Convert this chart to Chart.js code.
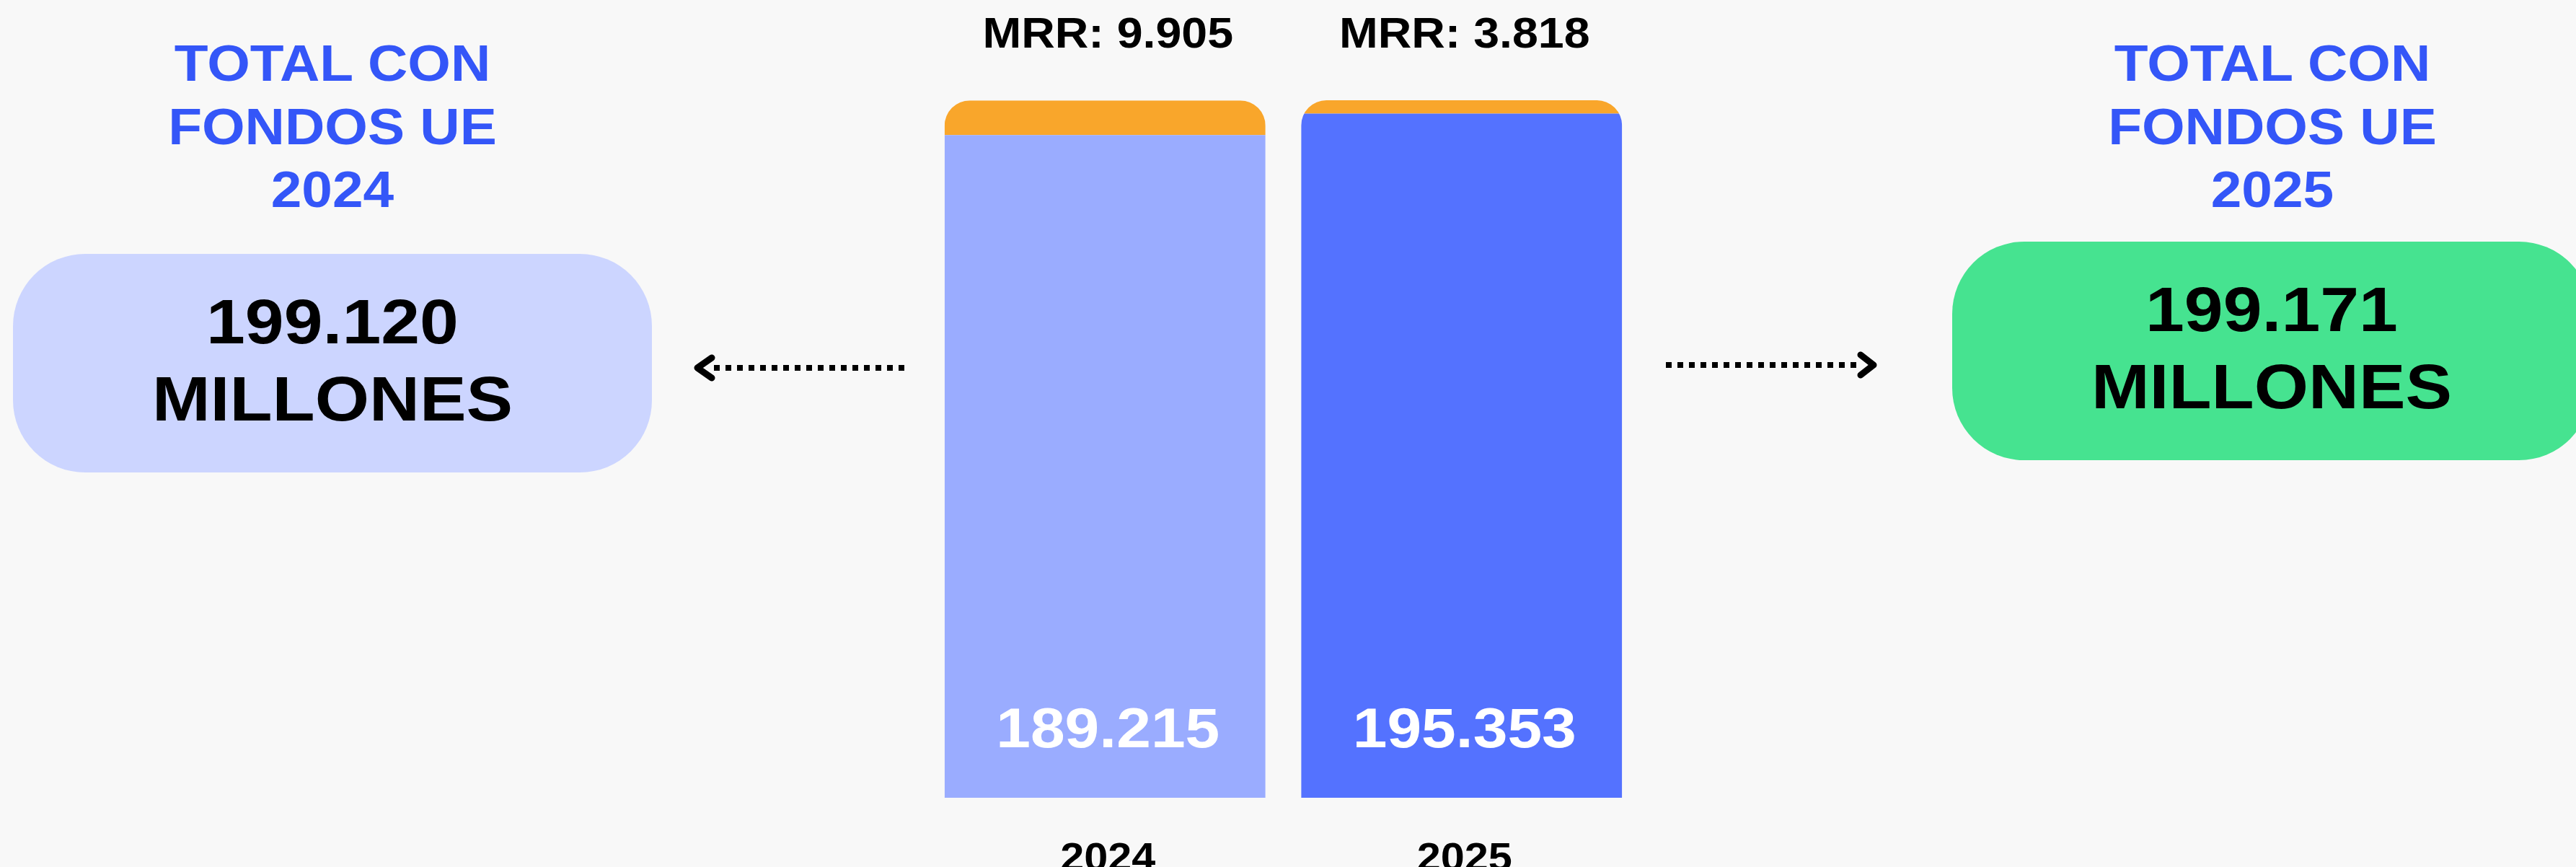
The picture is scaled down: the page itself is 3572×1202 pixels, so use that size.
<!DOCTYPE html>
<html>
<head>
<meta charset="utf-8">
<script src="https://cdn.jsdelivr.net/npm/chart.js@4.4.1/dist/chart.umd.min.js"></script>
<style>
  body { margin: 0; background: #f8f8f8; }
  #wrap { position: relative; width: 3572px; height: 1202px; overflow: hidden; background: #f8f8f8; }
  #chart { position: absolute; left: 0; top: 0; }
  .title {
    position: absolute; width: 700px; top: 45px;
    font-family: "Liberation Sans", Arial, sans-serif; font-weight: bold;
    font-size: 70px; line-height: 87.5px;
    color: #3456f8; text-align: center;
    transform: scaleX(1.095); transform-origin: 50% 50%;
  }
  .box {
    position: absolute; width: 886px; height: 303px; border-radius: 100px;
    box-sizing: border-box; padding-top: 40px;
    font-family: "Liberation Sans", Arial, sans-serif; font-weight: bold;
    font-size: 88px; line-height: 107px;
    color: #000; text-align: center;
  }
  .box div { transform: scaleX(1.1); transform-origin: 50% 50%; }
  svg { position: absolute; left: 0; top: 0; }
</style>
</head>
<body>
<div id="wrap">
  <canvas id="chart" width="3572" height="1202"></canvas>

  <div class="title" style="left:111px">TOTAL CON<br>FONDOS UE<br><span id="year_a"></span></div>
  <div class="box" style="left:18px; top:352px; background:#ccd5ff"><div id="box_a"></div></div>

  <div class="title" style="left:2801px">TOTAL CON<br>FONDOS UE<br><span id="year_b"></span></div>
  <div class="box" style="left:2707px; top:335px; background:#46e390"><div id="box_b"></div></div>

  <svg width="3572" height="1202">
    <g stroke="#000" fill="none">
      <line x1="990" y1="510" x2="1254" y2="510" stroke-width="8" stroke-dasharray="8 8"/>
      <polyline points="987,496 967,510 987,524" stroke-width="9" stroke-linecap="round" stroke-linejoin="round"/>
      <line x1="2310" y1="506" x2="2576" y2="506" stroke-width="8" stroke-dasharray="8 8"/>
      <polyline points="2580,492 2598,506 2580,520" stroke-width="9" stroke-linecap="round" stroke-linejoin="round"/>
    </g>
  </svg>
</div>

<script>
// data (millones)
var years = ['2024', '2025'];
var base_values = [189215, 195353];
var mrr_values = [9905, 3818];
var y_max = 200000;

var base_colors = ['#9aacff', '#5472ff'];
var mrr_color = '#f9a62b';
var CORNER = 35;

function fmt(n) {
  return n.toString().replace(/\B(?=(\d{3})+(?!\d))/g, '.');
}

// side panels
document.getElementById('year_a').textContent = years[0];
document.getElementById('year_b').textContent = years[1];
document.getElementById('box_a').innerHTML = fmt(base_values[0] + mrr_values[0]) + '<br>MILLONES';
document.getElementById('box_b').innerHTML = fmt(base_values[1] + mrr_values[1]) + '<br>MILLONES';

// round the top of each whole stack
var roundTops = {
  id: 'roundTops',
  beforeDatasetsDraw: function(chart) {
    var ctx = chart.ctx;
    var low = chart.getDatasetMeta(0).data;
    var high = chart.getDatasetMeta(1).data;
    ctx.save();
    ctx.beginPath();
    low.forEach(function(b, i) {
      var t = high[i];
      ctx.roundRect(b.x - b.width / 2, t.y, b.width, b.base - t.y, [CORNER, CORNER, 0, 0]);
    });
    ctx.clip();
  },
  afterDatasetsDraw: function(chart) {
    chart.ctx.restore();
  }
};

function wideText(ctx, text, x, y, sx) {
  ctx.save();
  ctx.translate(x, y);
  ctx.scale(sx, 1);
  ctx.fillText(text, 0, 0);
  ctx.restore();
}

var barLabels = {
  id: 'barLabels',
  afterDraw: function(chart) {
    var ctx = chart.ctx;
    var low = chart.getDatasetMeta(0).data;
    var high = chart.getDatasetMeta(1).data;
    ctx.save();
    ctx.textAlign = 'center';
    ctx.textBaseline = 'alphabetic';
    low.forEach(function(b, i) {
      var t = high[i];
      // MRR above the stack
      ctx.fillStyle = '#000';
      ctx.font = 'bold 60px "Liberation Sans", Arial, sans-serif';
      wideText(ctx, 'MRR: ' + fmt(mrr_values[i]), b.x + 4, t.y - 73, 1.075);
      // base value inside the bar
      ctx.fillStyle = '#fff';
      ctx.font = 'bold 78px "Liberation Sans", Arial, sans-serif';
      wideText(ctx, fmt(base_values[i]), b.x + 4, b.base - 70, 1.1);
      // year under the bar
      ctx.fillStyle = '#000';
      ctx.font = 'bold 55px "Liberation Sans", Arial, sans-serif';
      wideText(ctx, years[i], b.x + 4, b.base + 101, 1.08);
    });
    ctx.restore();
  }
};

var config = {
  type: 'bar',
  data: {
    labels: years,
    datasets: [{
      label: 'Sin MRR',
      data: base_values,
      backgroundColor: base_colors,
      borderWidth: 0
    }, {
      label: 'MRR',
      data: mrr_values,
      backgroundColor: mrr_color,
      borderWidth: 0
    }]
  },
  options: {
    responsive: false,
    devicePixelRatio: 1,
    animation: false,
    categoryPercentage: 1,
    barPercentage: 0.9,
    layout: { padding: { left: 1285, right: 1298, top: 135, bottom: 96 } },
    plugins: {
      legend: { display: false },
      tooltip: { enabled: false }
    },
    scales: {
      x: { stacked: true, display: false },
      y: { stacked: true, display: false, min: 0, max: y_max }
    }
  },
  plugins: [roundTops, barLabels]
};

var ctx = document.getElementById('chart').getContext('2d');
window.myBar = new Chart(ctx, config);
</script>
</body>
</html>
